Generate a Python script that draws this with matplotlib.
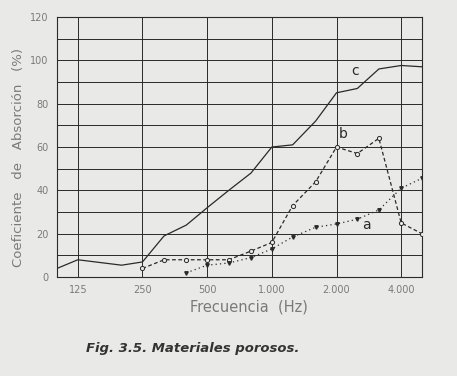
import numpy as np
import matplotlib.pyplot as plt

# datos
freq_c = [100, 125, 200, 250, 315, 400, 500, 630, 800, 1000, 1250, 1600, 2000, 2500, 3150, 4000, 5000]
abs_c = [4, 8, 5.5, 7, 19, 24, 32, 40, 48, 60, 61, 72, 85, 87, 96, 97.6, 97]

freq_b = [250, 315, 400, 500, 630, 800, 1000, 1250, 1600, 2000, 2500, 3150, 4000, 5000]
abs_b = [4, 8, 8, 8, 8, 12, 16, 33, 44, 60, 57, 64, 25, 20]

freq_a = [400, 500, 630, 800, 1000, 1250, 1600, 2000, 2500, 3150, 4000, 5000]
abs_a = [2, 5.5, 6.5, 9, 13, 18.5, 23, 24.5, 26.7, 31, 41, 45.6]

xticks = [125, 250, 500, 1000, 2000, 4000]
xticklabels = ['125', '250', '500', '1.000', '2.000', '4.000']
yticks = [0, 20, 40, 60, 80, 100, 120]

bg = '#e9e9e7'
ink = '#2a2a2a'
grey = '#7a7a7a'

fig = plt.figure(figsize=(4.57, 3.76), dpi=100, facecolor=bg)
ax = fig.add_axes([0.1247, 0.263, 0.7987, 0.692], facecolor=bg)

# rejilla
for y in range(10, 120, 10):
    ax.axhline(y, color=ink, lw=0.7, zorder=1)
for x in xticks:
    ax.axvline(x, color=ink, lw=0.7, zorder=1)

ax.plot(freq_c, abs_c, color=ink, lw=0.9, zorder=3)
ax.plot(freq_b, abs_b, color=ink, lw=0.9, ls=(0, (3, 2)), marker='o', ms=3,
        mfc=bg, mec=ink, mew=0.7, zorder=3)
ax.plot(freq_a, abs_a, color=ink, lw=0.9, ls=(0, (1, 2.5)), marker='v', ms=2.5,
        mfc=ink, mec=ink, zorder=3)

# letras de las curvas
ax.text(2450, 95, 'c', color=ink, fontsize=10, ha='center', va='center')
ax.text(2140, 66, 'b', color=ink, fontsize=10, ha='center', va='center')
ax.text(2770, 24, 'a', color=ink, fontsize=10, ha='center', va='center')

ax.set_xscale('log')
ax.set_xlim(100, 5000)
ax.set_ylim(0, 120)
ax.set_xticks(xticks)
ax.set_xticklabels(xticklabels)
ax.minorticks_off()
ax.set_yticks(yticks)
ax.tick_params(length=0, labelsize=7, labelcolor=grey, pad=6)
for s in ax.spines.values():
    s.set_color(ink)
    s.set_linewidth(0.8)

ax.set_ylabel('Coeficiente   de   Absorción   (%)', fontsize=9.5, color=grey)
ax.yaxis.set_label_coords(-0.088, 0.46)
ax.set_xlabel('Frecuencia  (Hz)', fontsize=10.5, color=grey)
ax.xaxis.set_label_coords(0.526, -0.085)

fig.text(0.422, 0.072, 'Fig. 3.5. Materiales porosos.', fontsize=9.5, color='#333333',
         fontweight='bold', style='italic', ha='center', va='center')

plt.savefig('out.png', dpi=100, facecolor=bg)
